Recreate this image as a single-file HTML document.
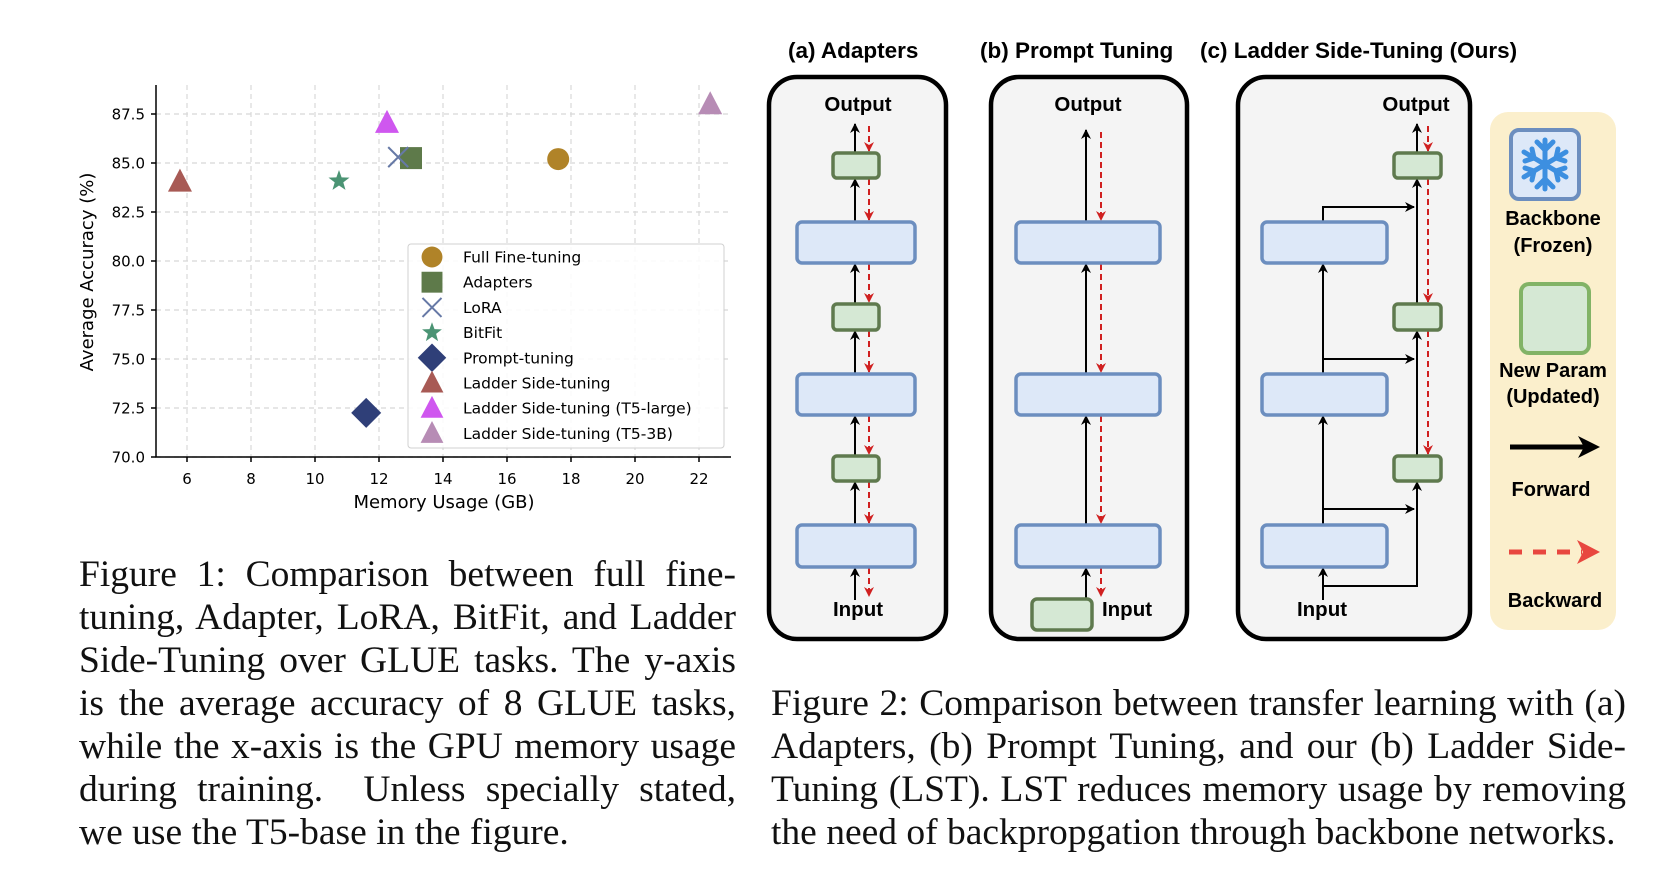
<!DOCTYPE html>
<html><head><meta charset="utf-8"><style>
html,body{margin:0;padding:0;background:#fff;}
#root{position:relative;width:1672px;height:884px;overflow:hidden;}
.cap{position:absolute;font-family:"Liberation Serif",serif;font-size:37.5px;color:#111;line-height:43px;text-align:justify;text-align-last:justify;white-space:nowrap;}
.cap div{height:43px;text-align-last:justify;}
.cap div.last{text-align-last:left;}
</style></head><body>
<div id="root">
<svg id="chart" width="1672" height="884" style="position:absolute;left:0;top:0" font-family="DejaVu Sans, sans-serif"></svg>

<svg width="1672" height="884" style="position:absolute;left:0;top:0" font-family="Liberation Sans, sans-serif">
<defs>
<marker id="ab" viewBox="0 0 10 10" refX="9" refY="5" markerWidth="5" markerHeight="6" orient="auto"><path d="M0,0 L10,5 L0,10 L3,5 z" fill="#000"/></marker>
<marker id="ar" viewBox="0 0 10 10" refX="9" refY="5" markerWidth="5" markerHeight="6" orient="auto"><path d="M0,0 L10,5 L0,10 L3,5 z" fill="#d02020"/></marker>
</defs>
<g font-weight="bold" font-size="22.5" fill="#000">
<text x="788" y="58">(a) Adapters</text>
<text x="980" y="58">(b) Prompt Tuning</text>
<text x="1200" y="58">(c) Ladder Side-Tuning (Ours)</text>
</g>
<g transform="translate(-4,0)">
<rect x="773" y="77" width="177" height="562" rx="28" fill="#f4f4f4" stroke="#000" stroke-width="4.5"/>
<rect x="995" y="77" width="196" height="562" rx="28" fill="#f4f4f4" stroke="#000" stroke-width="4.5"/>
<rect x="1242" y="77" width="232" height="562" rx="28" fill="#f4f4f4" stroke="#000" stroke-width="4.5"/>

<g font-weight="bold" font-size="20.5" fill="#000" text-anchor="middle">
<text x="862" y="111">Output</text><text x="862" y="616">Input</text>
<text x="1092" y="111">Output</text><text x="1131" y="616">Input</text>
<text x="1420" y="111">Output</text><text x="1326" y="616">Input</text>
</g>

<g stroke="#000" stroke-width="2" marker-end="url(#ab)">
<line x1="859" y1="600" x2="859" y2="568"/><line x1="859" y1="524" x2="859" y2="482"/><line x1="859" y1="455" x2="859" y2="416"/>
<line x1="859" y1="373" x2="859" y2="331"/><line x1="859" y1="303" x2="859" y2="264"/><line x1="859" y1="221" x2="859" y2="179"/><line x1="859" y1="152" x2="859" y2="124"/>
</g>
<g stroke="#d02020" stroke-width="2" stroke-dasharray="6,4" marker-end="url(#ar)">
<line x1="873" y1="126" x2="873" y2="151"/><line x1="873" y1="179" x2="873" y2="220"/><line x1="873" y1="264" x2="873" y2="302"/><line x1="873" y1="331" x2="873" y2="372"/>
<line x1="873" y1="416" x2="873" y2="454"/><line x1="873" y1="482" x2="873" y2="523"/><line x1="873" y1="568" x2="873" y2="596"/>
</g>
<g fill="#dde8f8" stroke="#6c8ebf" stroke-width="3.5">
<rect x="801" y="222" width="118" height="41" rx="5"/><rect x="801" y="374" width="118" height="41" rx="5"/><rect x="801" y="525" width="118" height="42" rx="5"/>
</g>
<g fill="#d5e8d4" stroke="#5f7a4e" stroke-width="3.5">
<rect x="837" y="153" width="46" height="25" rx="4"/><rect x="837" y="304" width="46" height="26" rx="4"/><rect x="837" y="456" width="46" height="25" rx="4"/>
</g>

<g stroke="#000" stroke-width="2" marker-end="url(#ab)">
<line x1="1090" y1="598" x2="1090" y2="568"/><line x1="1090" y1="524" x2="1090" y2="416"/><line x1="1090" y1="373" x2="1090" y2="264"/><line x1="1090" y1="221" x2="1090" y2="130"/>
</g>
<g stroke="#d02020" stroke-width="2" stroke-dasharray="6,4" marker-end="url(#ar)">
<line x1="1105" y1="132" x2="1105" y2="220"/><line x1="1105" y1="264" x2="1105" y2="372"/><line x1="1105" y1="416" x2="1105" y2="523"/><line x1="1105" y1="568" x2="1105" y2="596"/>
</g>
<g fill="#dde8f8" stroke="#6c8ebf" stroke-width="3.5">
<rect x="1020" y="222" width="144" height="41" rx="5"/><rect x="1020" y="374" width="144" height="41" rx="5"/><rect x="1020" y="525" width="144" height="42" rx="5"/>
</g>
<rect x="1036" y="599" width="60" height="31" rx="5" fill="#d5e8d4" stroke="#5f7a4e" stroke-width="3.5"/>

<g stroke="#000" stroke-width="2" fill="none">
<line x1="1327" y1="600" x2="1327" y2="568" marker-end="url(#ab)"/>
<line x1="1327" y1="524" x2="1327" y2="416" marker-end="url(#ab)"/>
<line x1="1327" y1="373" x2="1327" y2="264" marker-end="url(#ab)"/>
<polyline points="1327,221 1327,207 1418,207" marker-end="url(#ab)"/>
<line x1="1327" y1="359" x2="1418" y2="359" marker-end="url(#ab)"/>
<line x1="1327" y1="509" x2="1418" y2="509" marker-end="url(#ab)"/>
<polyline points="1327,586 1421,586 1421,482" marker-end="url(#ab)"/>
<line x1="1421" y1="455" x2="1421" y2="331" marker-end="url(#ab)"/>
<line x1="1421" y1="303" x2="1421" y2="179" marker-end="url(#ab)"/>
<line x1="1421" y1="152" x2="1421" y2="124" marker-end="url(#ab)"/>
</g>
<g stroke="#d02020" stroke-width="2" stroke-dasharray="6,4" marker-end="url(#ar)">
<line x1="1432" y1="126" x2="1432" y2="151"/><line x1="1432" y1="179" x2="1432" y2="302"/><line x1="1432" y1="331" x2="1432" y2="454"/>
</g>
<g fill="#dde8f8" stroke="#6c8ebf" stroke-width="3.5">
<rect x="1266" y="222" width="125" height="41" rx="5"/><rect x="1266" y="374" width="125" height="41" rx="5"/><rect x="1266" y="525" width="125" height="42" rx="5"/>
</g>
<g fill="#d5e8d4" stroke="#5f7a4e" stroke-width="3.5">
<rect x="1398" y="153" width="47" height="25" rx="4"/><rect x="1398" y="304" width="47" height="26" rx="4"/><rect x="1398" y="456" width="47" height="25" rx="4"/>
</g>
</g>

<g transform="translate(-8,0)">
<rect x="1498" y="112" width="126" height="518" rx="18" fill="#fbefcc"/>
<rect x="1519" y="130" width="68" height="69" rx="8" fill="#dde8f8" stroke="#6c8ebf" stroke-width="4"/>
<g stroke="#3d8fe0" stroke-width="5" stroke-linecap="round" fill="none">
<line x1="1553" y1="140" x2="1553" y2="189"/><line x1="1532" y1="152" x2="1574" y2="177"/><line x1="1532" y1="177" x2="1574" y2="152"/>
<polyline points="1545,142 1553,150 1561,142"/><polyline points="1545,187 1553,179 1561,187"/>
<polyline points="1533,161 1542,158 1540,149"/><polyline points="1573,168 1564,171 1566,180"/>
<polyline points="1573,161 1564,158 1566,149"/><polyline points="1533,168 1542,171 1540,180"/>
</g>
<rect x="1529" y="284" width="68" height="69" rx="8" fill="#d5e8d4" stroke="#82b366" stroke-width="4"/>
<g font-weight="bold" font-size="20" fill="#000" text-anchor="middle">
<text x="1561" y="225">Backbone</text><text x="1561" y="252">(Frozen)</text>
<text x="1561" y="377">New Param</text><text x="1561" y="403">(Updated)</text>
<text x="1559" y="496">Forward</text><text x="1563" y="607">Backward</text>
</g>
<line x1="1518" y1="447" x2="1592" y2="447" stroke="#000" stroke-width="5"/>
<path d="M1586,436 L1608,447 L1586,458 L1592,447 z" fill="#000"/>
<line x1="1517" y1="552" x2="1590" y2="552" stroke="#e8473f" stroke-width="5" stroke-dasharray="13,11"/>
<path d="M1585,540 L1608,552 L1585,564 L1591,552 z" fill="#e8473f"/>
</g>
</svg>

<div class="cap" style="left:79px;top:553px;width:657px;">
<div>Figure 1: Comparison between full fine-</div>
<div>tuning, Adapter, LoRA, BitFit, and Ladder</div>
<div>Side-Tuning over GLUE tasks. The y-axis</div>
<div>is the average accuracy of 8 GLUE tasks,</div>
<div>while the x-axis is the GPU memory usage</div>
<div>during training. &nbsp;Unless specially stated,</div>
<div class="last">we use the T5-base in the figure.</div>
</div>
<div class="cap" style="left:771px;top:682px;width:855px;">
<div>Figure 2: Comparison between transfer learning with (a)</div>
<div>Adapters, (b) Prompt Tuning, and our (b) Ladder Side-</div>
<div>Tuning (LST). LST reduces memory usage by removing</div>
<div class="last">the need of backpropgation through backbone networks.</div>
</div>
</div>
<script>
const xTicks = [6, 8, 10, 12, 14, 16, 18, 20, 22];
const yTicks = [70.0, 72.5, 75.0, 77.5, 80.0, 82.5, 85.0, 87.5];
const methods = ["Full Fine-tuning","Adapters","LoRA","BitFit","Prompt-tuning","Ladder Side-tuning","Ladder Side-tuning (T5-large)","Ladder Side-tuning (T5-3B)"];
const memoryGB = [17.6, 13.0, 12.6, 10.75, 11.6, 5.78, 12.25, 22.35];
const accuracy = [85.2, 85.25, 85.3, 84.08, 72.25, 84.05, 87.05, 88.0];
const markers = ["circle","square","x","star","diamond","tri","tri","tri"];
const colors = ["#b08328","#5e7a4a","#6679a6","#4b9474","#2f3f78","#a85a55","#cf57ef","#b78cb5"];

const NS="http://www.w3.org/2000/svg";
const svg=document.getElementById('chart');
const X=v=>187+(v-6)*32;
const Y=v=>114+(87.5-v)*19.6;
function mk(t,a,p){const e=document.createElementNS(NS,t);for(const k in a)e.setAttribute(k,a[k]);(p||svg).appendChild(e);return e;}
function marker(type,cx,cy,color,s,p){
  let e;
  if(type==="circle"){e=mk('circle',{cx:cx,cy:cy,r:11*s,fill:color},p);}
  else if(type==="square"){e=mk('rect',{x:cx-11*s,y:cy-11*s,width:22*s,height:22*s,fill:color},p);}
  else if(type==="x"){e=mk('path',{d:`M${cx-10*s},${cy-10*s}L${cx+10*s},${cy+10*s}M${cx-10*s},${cy+10*s}L${cx+10*s},${cy-10*s}`,stroke:color,'stroke-width':2,fill:'none'},p);}
  else if(type==="star"){let pts=[];for(let i=0;i<10;i++){const r=(i%2?4.5:11)*s,a=-Math.PI/2+i*Math.PI/5;pts.push((cx+r*Math.cos(a)).toFixed(1)+','+(cy+r*Math.sin(a)).toFixed(1));}e=mk('polygon',{points:pts.join(' '),fill:color},p);}
  else if(type==="diamond"){e=mk('polygon',{points:`${cx},${cy-15*s} ${cx+15*s},${cy} ${cx},${cy+15*s} ${cx-15*s},${cy}`,fill:color},p);}
  else {e=mk('polygon',{points:`${cx},${cy-13*s} ${cx+12*s},${cy+10*s} ${cx-12*s},${cy+10*s}`,fill:color},p);}
  return e;
}
const grid=mk('g',{stroke:'#d8d8d8','stroke-width':1.2,'stroke-dasharray':'5,4'});


xTicks.forEach(v=>mk('line',{x1:X(v),x2:X(v),y1:85,y2:457},grid));
yTicks.forEach(v=>mk('line',{x1:156,x2:731,y1:Y(v),y2:Y(v)},grid));
const ax=mk('g',{stroke:'#000','stroke-width':1.5});


mk('line',{x1:156,x2:156,y1:85,y2:457.5},ax);
mk('line',{x1:155.5,x2:731,y1:457,y2:457},ax);
xTicks.forEach(v=>{mk('line',{x1:X(v),x2:X(v),y1:457,y2:462},ax);
  const t=mk('text',{x:X(v),y:484,'text-anchor':'middle','font-size':15,fill:'#000',stroke:'none'});t.textContent=v;
  
  });
yTicks.forEach(v=>{mk('line',{x1:151,x2:156,y1:Y(v),y2:Y(v)},ax);
  const t=mk('text',{x:145,y:Y(v)+5.5,'text-anchor':'end','font-size':15,fill:'#000',stroke:'none'});t.textContent=v.toFixed(1);
  
  });
const xl=mk('text',{x:444,y:508,'text-anchor':'middle','font-size':18});xl.textContent='Memory Usage (GB)';


const yl=mk('text',{x:0,y:0,'text-anchor':'middle','font-size':18,transform:'translate(93,272) rotate(-90)'});yl.textContent='Average Accuracy (%)';


methods.forEach((m,i)=>{const e=marker(markers[i],X(memoryGB[i]),Y(accuracy[i]),colors[i],1);
  
  });
const lg=mk('g',{});


mk('rect',{x:408,y:244,width:316,height:204,rx:3,fill:'#fff','fill-opacity':0.85,stroke:'#d0d0d0'},lg);
methods.forEach((m,i)=>{const cy=257+i*25.2;
  const g=mk('g',{},lg);
  
  
  marker(markers[i],432,cy,colors[i],0.95,g);
  const t=mk('text',{x:463,y:cy+5.5,'font-size':15.5,fill:'#000'},g);t.textContent=m;});
</script>
</body></html>
